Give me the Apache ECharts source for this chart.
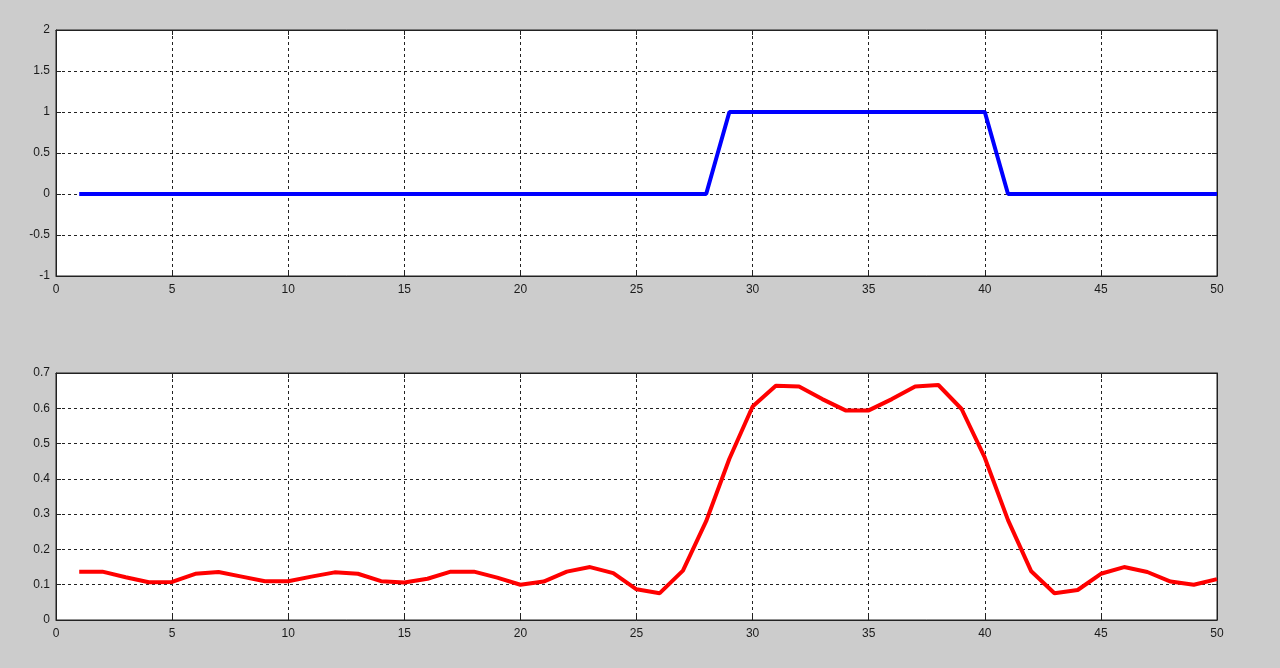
<!DOCTYPE html>
<html>
<head>
<meta charset="utf-8">
<script src="https://cdn.jsdelivr.net/npm/echarts@6/dist/echarts.min.js"></script>
<style>
html,body{margin:0;padding:0;background:#cccccc;}
#chart{width:1280px;height:668px;}
</style>
</head>
<body>
<div id="chart"></div>
<script>
// sample index (x)
var xValues = [1,2,3,4,5,6,7,8,9,10,11,12,13,14,15,16,17,18,19,20,21,22,23,24,25,26,27,28,29,30,31,32,33,34,35,36,37,38,39,40,41,42,43,44,45,46,47,48,49,50];
// top plot: pulse signal
var pulseValues = [0,0,0,0,0,0,0,0,0,0,0,0,0,0,0,0,0,0,0,0,0,0,0,0,0,0,0,0,1,1,1,1,1,1,1,1,1,1,1,1,0,0,0,0,0,0,0,0,0,0];
// bottom plot: response signal
var responseValues = [0.137,0.137,0.121,0.107,0.108,0.131,0.136,0.123,0.110,0.110,0.123,0.135,0.131,0.110,0.106,0.117,0.137,0.137,0.120,0.100,0.109,0.137,0.150,0.133,0.087,0.076,0.140,0.280,0.457,0.605,0.664,0.662,0.626,0.594,0.594,0.626,0.662,0.666,0.598,0.460,0.283,0.138,0.076,0.085,0.131,0.150,0.136,0.109,0.100,0.116];
var xTicks = {min:0, max:50, interval:5};
var topY = {min:-1, max:2, interval:0.5};
var bottomY = {min:0, max:0.7, interval:0.1};

function pairs(xs, ys){ return xs.map(function(x,i){ return [x, ys[i]]; }); }

var chart = echarts.init(document.getElementById('chart'), null, {renderer:'canvas'});
var labelStyle = {color:'#1a1a1a', fontFamily:'Liberation Sans, Arial, sans-serif', fontSize:12};
var split = {show:true, lineStyle:{color:'#222', type:[3,3], width:1}};
var axLine = {show:true, onZero:false, lineStyle:{color:'#222', width:1}};
function xAx(gi, pos, showLabel){
  return {type:'value', gridIndex:gi, position:pos, min:xTicks.min, max:xTicks.max, interval:xTicks.interval,
    axisLine:axLine, axisTick:{show:true, inside:true, length:5, lineStyle:{color:'#222'}},
    axisLabel:{show:showLabel, margin:8, ...labelStyle},
    splitLine: showLabel ? split : {show:false}};
}
function yAx(gi, pos, showLabel, r){
  return {type:'value', gridIndex:gi, position:pos, min:r.min, max:r.max, interval:r.interval,
    axisLine:axLine, axisTick:{show:true, inside:true, length:5, lineStyle:{color:'#222'}},
    axisLabel:{show:showLabel, margin:6, ...labelStyle},
    splitLine: showLabel ? split : {show:false}};
}
chart.setOption({
  backgroundColor:'#cccccc',
  animation:false,
  grid:[
    {left:56, right:63, top:30, height:246, show:true, backgroundColor:'#ffffff', borderColor:'#222', borderWidth:1},
    {left:56, right:63, top:373, height:247, show:true, backgroundColor:'#ffffff', borderColor:'#222', borderWidth:1}
  ],
  xAxis:[xAx(0,'bottom',true), xAx(0,'top',false), xAx(1,'bottom',true), xAx(1,'top',false)],
  yAxis:[yAx(0,'left',true,topY), yAx(0,'right',false,topY), yAx(1,'left',true,bottomY), yAx(1,'right',false,bottomY)],
  series:[
    {type:'line', xAxisIndex:0, yAxisIndex:0, data:pairs(xValues,pulseValues), showSymbol:false, lineStyle:{color:'#0000ff', width:4}, itemStyle:{color:'#0000ff'}},
    {type:'line', xAxisIndex:2, yAxisIndex:2, data:pairs(xValues,responseValues), showSymbol:false, lineStyle:{color:'#ff0000', width:4}, itemStyle:{color:'#ff0000'}}
  ]
});
</script>
</body>
</html>
